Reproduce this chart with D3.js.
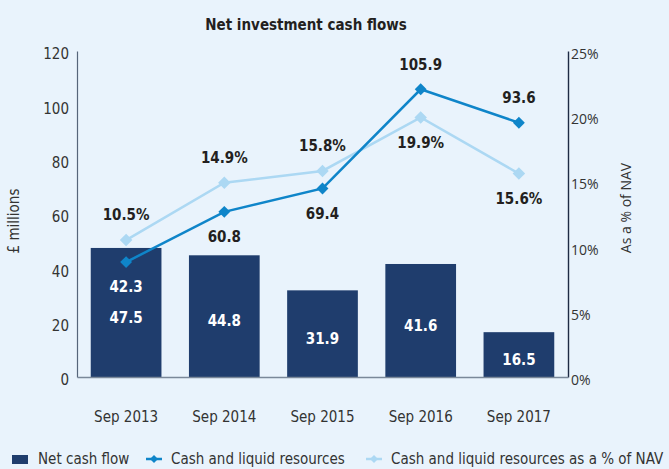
<!DOCTYPE html>
<html lang="en">
<head>
  <meta charset="UTF-8">
  <title>Net investment cash flows</title>
  <script src="https://cdn.jsdelivr.net/npm/d3@7/dist/d3.min.js"></script>
  <style>
    html, body { margin: 0; padding: 0; background: #e9f3fc; }
    svg { display: block; font-family: "DejaVu Sans Condensed", "Liberation Sans Narrow", sans-serif; }
  </style>
</head>
<body>
  <div id="wrapper"></div>
  <script>
    const years = ["Sep 2013", "Sep 2014", "Sep 2015", "Sep 2016", "Sep 2017"]
    const netCashFlow = [47.5, 44.8, 31.9, 41.6, 16.5]
    const cashLiquid = [42.3, 60.8, 69.4, 105.9, 93.6]
    const pctNav = [10.5, 14.9, 15.8, 19.9, 15.6]
    // where each point label sits: below or above the marker
    const cashLabelPos = ["below", "below", "below", "above", "above"]
    const pctLabelPos = ["above", "above", "above", "below", "below"]
    const leftTicks = [0, 20, 40, 60, 80, 100, 120]
    const rightTicks = [0, 5, 10, 15, 20, 25]

    const colors = { bar: "#1f3d6d", dark: "#0f85c9", light: "#acd8f3", text: "#231f20" }

    const dimensions = {
      width: 669,
      height: 469,
      margin: { top: 51, right: 101, bottom: 92, left: 77 }
    }
    dimensions.boundedWidth = dimensions.width - dimensions.margin.left - dimensions.margin.right
    dimensions.boundedHeight = dimensions.height - dimensions.margin.top - dimensions.margin.bottom

    const svg = d3.select("#wrapper").append("svg")
      .attr("width", dimensions.width)
      .attr("height", dimensions.height)

    svg.append("rect").attr("width", dimensions.width).attr("height", dimensions.height).attr("fill", "#e9f3fc")

    svg.append("text")
      .attr("x", 306).attr("y", 30)
      .attr("text-anchor", "middle")
      .attr("font-size", 15).attr("font-weight", "bold")
      .attr("fill", colors.text)
      .text("Net investment cash flows")

    const bounds = svg.append("g")
      .attr("transform", `translate(${dimensions.margin.left},${dimensions.margin.top})`)

    const xScale = d3.scaleBand()
      .domain(years)
      .range([0, dimensions.boundedWidth])
      .paddingInner(0.28)
      .paddingOuter(0.14)
    const yScale = d3.scaleLinear().domain([0, 120]).range([dimensions.boundedHeight, 0])
    const pScale = d3.scaleLinear().domain([0, 25]).range([dimensions.boundedHeight, 0])
    const cx = d => xScale(d) + xScale.bandwidth() / 2

    // bars
    bounds.selectAll("rect.bar").data(netCashFlow).join("rect")
      .attr("class", "bar")
      .attr("x", (d, i) => xScale(years[i]))
      .attr("y", d => yScale(d))
      .attr("width", xScale.bandwidth())
      .attr("height", d => yScale(0) - yScale(d))
      .attr("fill", colors.bar)

    bounds.selectAll("text.barlabel").data(netCashFlow).join("text")
      .attr("class", "barlabel")
      .attr("x", (d, i) => cx(years[i]))
      .attr("y", d => (yScale(d) + yScale(0)) / 2 + 5)
      .attr("dy", "0.35em")
      .attr("text-anchor", "middle")
      .attr("font-size", 15).attr("font-weight", "bold")
      .attr("fill", "#ffffff")
      .text(d => d.toFixed(1))

    // axes
    const leftAxis = d3.axisLeft(yScale).tickValues(leftTicks).tickSize(0).tickPadding(8)
    const gl = bounds.append("g").call(leftAxis)
    gl.select(".domain").attr("stroke", "#56657a").attr("stroke-width", 1.2)

    const rightAxis = d3.axisRight(pScale).tickValues(rightTicks).tickSize(0).tickPadding(3)
      .tickFormat(d => d + "%")
    const gr = bounds.append("g").attr("transform", `translate(${dimensions.boundedWidth},0)`).call(rightAxis)
    gr.select(".domain").attr("stroke", "#1d2a44").attr("stroke-width", 1.4)

    const bottomAxis = d3.axisBottom(xScale).tickSize(0).tickPadding(34)
    const gb = bounds.append("g").attr("transform", `translate(0,${dimensions.boundedHeight})`).call(bottomAxis)
    gb.select(".domain").attr("stroke", "#7a8899").attr("stroke-width", 1.5)

    svg.selectAll(".tick text")
      .attr("font-size", 15)
      .attr("fill", "#333")
      .attr("font-family", "\"DejaVu Sans Condensed\", sans-serif")
    gl.selectAll(".tick text").attr("transform", "translate(0,3)")
    gr.selectAll(".tick text").attr("transform", "translate(0,3)")
      .attr("font-family", "\"Open Sans\", sans-serif").attr("font-size", 14)

    bounds.append("text")
      .attr("transform", `translate(-58,170) rotate(-90)`)
      .attr("text-anchor", "middle")
      .attr("font-size", 15).attr("fill", "#333")
      .text("£ millions")
    bounds.append("text")
      .attr("transform", `translate(${dimensions.boundedWidth + 63},157) rotate(-90)`)
      .attr("text-anchor", "middle")
      .attr("font-family", "\"Open Sans\", sans-serif")
      .attr("font-size", 14).attr("fill", "#333")
      .text("As a % of NAV")

    // lines
    function drawLine(values, scale, color, labels, positions, fmt, size) {
      const line = d3.line()
        .x((d, i) => cx(years[i]))
        .y(d => scale(d))
      bounds.append("path")
        .attr("d", line(values))
        .attr("fill", "none")
        .attr("stroke", color)
        .attr("stroke-width", 2.5)
      bounds.selectAll(null).data(values).join("path")
        .attr("transform", (d, i) => `translate(${cx(years[i])},${scale(d)})`)
        .attr("d", d3.symbol().type(d3.symbolDiamond2).size(size))
        .attr("fill", color)
      bounds.selectAll(null).data(values).join("text")
        .attr("x", (d, i) => cx(years[i]))
        .attr("y", (d, i) => scale(d) + (positions[i] === "above" ? -25 : 25))
        .attr("dy", "0.35em")
        .attr("text-anchor", "middle")
        .attr("font-size", 15).attr("font-weight", "bold")
        .attr("fill", (d, i) => labels && i === 0 ? "#ffffff" : colors.text)
        .text(fmt)
    }

    drawLine(pctNav, pScale, colors.light, false, pctLabelPos, d => d.toFixed(1) + "%", 100)
    drawLine(cashLiquid, yScale, colors.dark, true, cashLabelPos, d => d.toFixed(1), 90)

    // legend
    const legend = svg.append("g").attr("transform", "translate(0,459)")
    legend.append("rect").attr("x", 12).attr("y", -4).attr("width", 16).attr("height", 9).attr("fill", colors.bar)
    legend.append("text").attr("x", 38).attr("y", 0).attr("dy", "0.35em")
      .attr("font-size", 15).attr("fill", "#333").text("Net cash flow")

    const items = [
      { x: 146, tx: 171, color: colors.dark, text: "Cash and liquid resources" },
      { x: 366, tx: 391, color: colors.light, text: "Cash and liquid resources as a % of NAV" }
    ]
    items.forEach(it => {
      legend.append("line").attr("x1", it.x).attr("x2", it.x + 16).attr("y1", 0).attr("y2", 0)
        .attr("stroke", it.color).attr("stroke-width", 2.5)
      legend.append("path").attr("transform", `translate(${it.x + 8},0)`)
        .attr("d", d3.symbol().type(d3.symbolDiamond2).size(40)).attr("fill", it.color)
      legend.append("text").attr("x", it.tx).attr("y", 0).attr("dy", "0.35em")
        .attr("font-size", 15).attr("fill", "#333").text(it.text)
    })
  </script>
</body>
</html>
